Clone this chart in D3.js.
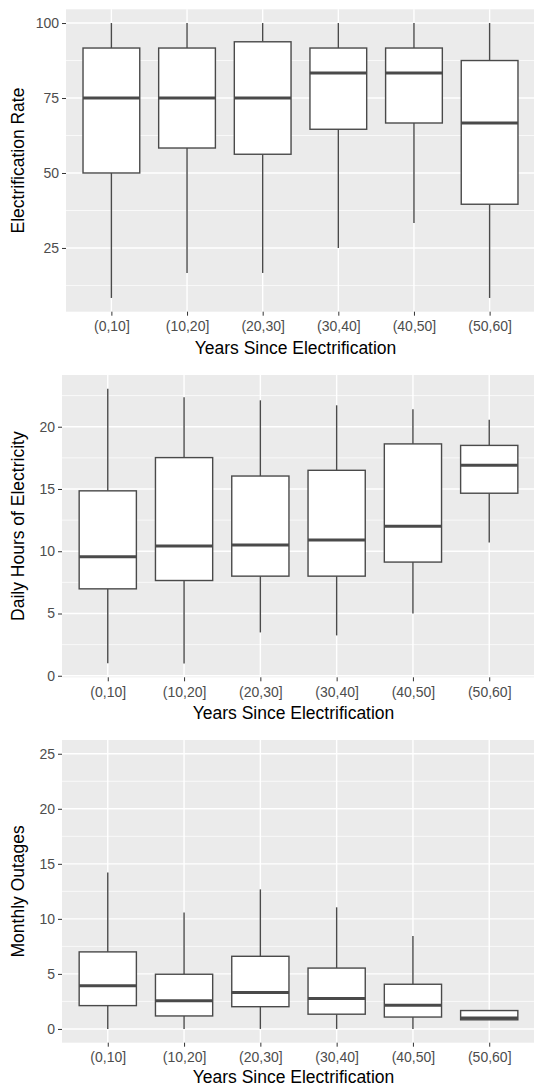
<!DOCTYPE html>
<html>
<head>
<meta charset="utf-8">
<script src="https://cdn.jsdelivr.net/npm/d3@7"></script>
<style>
  body { margin: 0; background: #fff; }
  svg { display: block; font-family: "Liberation Sans", Arial, sans-serif; }
</style>
</head>
<body>
<svg id="chart" width="534" height="1087"></svg>
<script>
// categories (shared x axis)
const categories = ["(0,10]", "(10,20]", "(20,30]", "(30,40]", "(40,50]", "(50,60]"]

// five-number summaries per category: [lower whisker, Q1, median, Q3, upper whisker]
const rateBoxes = [
  [8.33, 50, 75, 91.67, 100],
  [16.67, 58.33, 75, 91.67, 100],
  [16.67, 56.25, 75, 93.75, 100],
  [25, 64.58, 83.33, 91.67, 100],
  [33.33, 66.67, 83.33, 91.67, 100],
  [8.33, 39.58, 66.67, 87.5, 100]
]
const hoursBoxes = [
  [1.0, 6.98, 9.55, 14.85, 23.05],
  [0.98, 7.65, 10.42, 17.52, 22.36],
  [3.48, 8.0, 10.5, 16.04, 22.12],
  [3.24, 8.0, 10.9, 16.5, 21.72],
  [5.0, 9.13, 12.0, 18.62, 21.4],
  [10.7, 14.66, 16.91, 18.5, 20.55]
]
const outageBoxes = [
  [0, 2.12, 3.92, 7.0, 14.22],
  [0, 1.18, 2.55, 4.97, 10.57],
  [0, 2.02, 3.3, 6.6, 12.68],
  [0, 1.34, 2.76, 5.53, 11.05],
  [0, 1.08, 2.16, 4.06, 8.45],
  [0.83, 0.83, 1.0, 1.67, 1.67]
]

// y limits (before ggplot's 5% expansion) and tick values
const rateLimits = [8.33, 100]
const hoursLimits = [0.98, 23.05]
const outageLimits = [0, 25]
const rateTicks = [25, 50, 75, 100]
const hoursTicks = [0, 5, 10, 15, 20]
const outageTicks = [0, 5, 10, 15, 20, 25]

const yTitles = ["Electrification Rate", "Daily Hours of Electricity", "Monthly Outages"]
const xTitle = "Years Since Electrification"

const panels = [
  { boxes: rateBoxes, limits: rateLimits, ticks: rateTicks, title: yTitles[0], left: 66, top: 9.3, bottom: 311.7, titleGap: 42 },
  { boxes: hoursBoxes, limits: hoursLimits, ticks: hoursTicks, title: yTitles[1], left: 62, top: 375, bottom: 677.3, titleGap: 42 },
  { boxes: outageBoxes, limits: outageLimits, ticks: outageTicks, title: yTitles[2], left: 62, top: 740, bottom: 1042.7, titleGap: 40.5 }
]
const right = 535

const boxCol = "#4a4a4a"
const svg = d3.select("#chart")

panels.forEach(function (p) {
  const g = svg.append("g")

  const x = d3.scalePoint().domain(categories).range([p.left, right]).padding(0.6)
  const bw = x.step() * 0.75

  const span = p.limits[1] - p.limits[0]
  const y = d3.scaleLinear()
    .domain([p.limits[0] - span * 0.05, p.limits[1] + span * 0.05])
    .range([p.bottom, p.top])

  // panel background
  g.append("rect")
    .attr("x", p.left).attr("y", p.top)
    .attr("width", right - p.left).attr("height", p.bottom - p.top)
    .attr("fill", "#EBEBEB")

  // minor grid (halfway between major breaks)
  const step = p.ticks[1] - p.ticks[0]
  const minor = []
  for (let i = -1; i < p.ticks.length; i++) {
    const v = p.ticks[0] + step * i + step / 2
    if (v > y.domain()[0] && v < y.domain()[1]) minor.push(v)
  }
  g.selectAll(".minor").data(minor).join("line")
    .attr("x1", p.left).attr("x2", right)
    .attr("y1", d => y(d)).attr("y2", d => y(d))
    .attr("stroke", "#fff").attr("stroke-width", 0.7)

  g.selectAll(".major").data(p.ticks).join("line")
    .attr("x1", p.left).attr("x2", right)
    .attr("y1", d => y(d)).attr("y2", d => y(d))
    .attr("stroke", "#fff").attr("stroke-width", 1.4)

  g.selectAll(".vgrid").data(categories).join("line")
    .attr("x1", d => x(d)).attr("x2", d => x(d))
    .attr("y1", p.top).attr("y2", p.bottom)
    .attr("stroke", "#fff").attr("stroke-width", 1.4)

  // boxes
  const box = g.selectAll(".box").data(p.boxes).join("g")
    .attr("transform", (d, i) => `translate(${x(categories[i])},0)`)

  box.append("line")
    .attr("y1", d => y(d[3])).attr("y2", d => y(d[4]))
    .attr("stroke", boxCol).attr("stroke-width", 1.4)
  box.append("line")
    .attr("y1", d => y(d[0])).attr("y2", d => y(d[1]))
    .attr("stroke", boxCol).attr("stroke-width", 1.4)
  box.append("rect")
    .attr("x", -bw / 2).attr("width", bw)
    .attr("y", d => y(d[3])).attr("height", d => y(d[1]) - y(d[3]))
    .attr("fill", "#fff").attr("stroke", boxCol).attr("stroke-width", 1.4)
  box.append("line")
    .attr("x1", -bw / 2).attr("x2", bw / 2)
    .attr("y1", d => y(d[2])).attr("y2", d => y(d[2]))
    .attr("stroke", boxCol).attr("stroke-width", 3)

  // axes
  const ya = g.append("g").attr("transform", `translate(${p.left},0)`)
    .call(d3.axisLeft(y).tickValues(p.ticks).tickSize(4).tickPadding(3))
  const xa = g.append("g").attr("transform", `translate(0,${p.bottom})`)
    .call(d3.axisBottom(x).tickSize(4).tickPadding(5.5))
  for (const a of [ya, xa]) {
    a.select(".domain").remove()
    a.selectAll("line").attr("stroke", "#333")
    a.selectAll("text").attr("fill", "#4D4D4D").style("font-size", "14px")
      .style("font-family", "'Liberation Sans', Arial, sans-serif")
  }

  // titles
  g.append("text")
    .attr("x", (p.left + right) / 2 - 5).attr("y", p.bottom + p.titleGap)
    .attr("text-anchor", "middle").style("font-size", "17.5px")
    .text(xTitle)
  g.append("text")
    .attr("transform", `translate(23.5,${(p.top + p.bottom) / 2}) rotate(-90)`)
    .attr("text-anchor", "middle").style("font-size", "17.5px")
    .text(p.title)
})
</script>
</body>
</html>
